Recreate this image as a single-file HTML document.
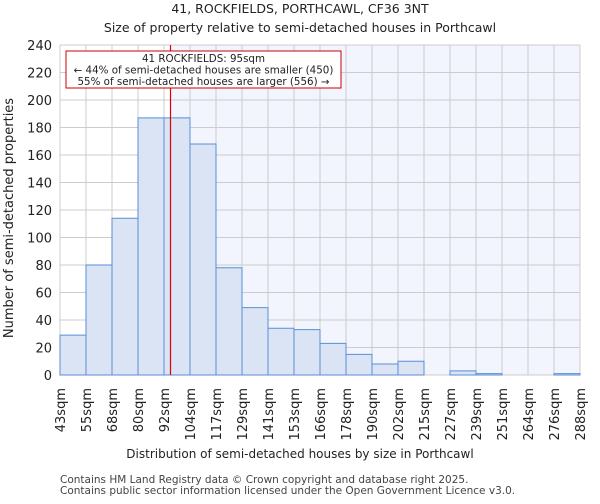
<!DOCTYPE html>
<html><head><meta charset="utf-8"><style>
body{margin:0;background:#fff;font-family:"DejaVu Sans","Liberation Sans",sans-serif;}
</style></head><body>
<svg width="600" height="500" xmlns="http://www.w3.org/2000/svg" font-family="DejaVu Sans, Liberation Sans, sans-serif">
<text x="300" y="13" text-anchor="middle" font-size="12.5" fill="#222">41, ROCKFIELDS, PORTHCAWL, CF36 3NT</text>
<text x="300" y="32" text-anchor="middle" font-size="12.5" fill="#222">Size of property relative to semi-detached houses in Porthcawl</text>
<g id="plot"></g>
<text x="300" y="458" text-anchor="middle" font-size="12" fill="#222">Distribution of semi-detached houses by size in Porthcawl</text>
<text transform="translate(13,218) rotate(-90)" text-anchor="middle" font-size="13" fill="#222">Number of semi-detached properties</text>
<text x="60" y="483" font-size="10.5" fill="#444">Contains HM Land Registry data © Crown copyright and database right 2025.</text>
<text x="60" y="494" font-size="10.5" fill="#444">Contains public sector information licensed under the Open Government Licence v3.0.</text>
</svg>
<script>
const categories=["43sqm","55sqm","68sqm","80sqm","92sqm","104sqm","117sqm","129sqm","141sqm","153sqm","166sqm","178sqm","190sqm","202sqm","215sqm","227sqm","239sqm","251sqm","264sqm","276sqm","288sqm"];
const binStarts=[43,55,68,80,92,104,117,129,141,153,166,178,190,202,215,227,239,251,264,276,288];
const counts=[29,80,114,187,187,168,78,49,34,33,23,15,8,10,0,3,1,0,0,1];
const yTicks=[0,20,40,60,80,100,120,140,160,180,200,220,240];
const markerValue=95;
const NS="http://www.w3.org/2000/svg";
const L=60,R=580,T=45,B=375,yMax=240;
const n=counts.length,bw=(R-L)/n;
const xs=i=>L+i*bw;
const ys=v=>B-v/yMax*(B-T);
function xv(v){let i=0;while(i<binStarts.length-2&&v>=binStarts[i+1])i++;return xs(i)+(v-binStarts[i])/(binStarts[i+1]-binStarts[i])*bw;}
const g=document.getElementById('plot');
function mk(t,a){const e=document.createElementNS(NS,t);for(const k in a)e.setAttribute(k,a[k]);g.appendChild(e);return e;}
const mx=xv(markerValue);
let e=mk('rect',{x:mx,y:T,width:R-mx,height:B-T,fill:'#f2f5fd'});


for(const t of yTicks){
 e=mk('line',{x1:L,x2:R,y1:ys(t),y2:ys(t),stroke:'#ccc','stroke-width':1});
 
 
 e=mk('text',{x:L-8,y:ys(t)+5,'text-anchor':'end','font-size':13,fill:'#222'});e.textContent=t;
 
 
}
for(let i=0;i<=n;i++){
 e=mk('line',{x1:xs(i),x2:xs(i),y1:T,y2:B,stroke:'#ccc','stroke-width':1});
 
 
}
counts.forEach((c,i)=>{
 e=mk('rect',{x:xs(i),y:ys(c),width:bw,height:B-ys(c),fill:'#dae4f4',stroke:'#5a8ed6','stroke-width':1});
 
 
});
categories.forEach((c,i)=>{
 const x=xs(i);
 e=mk('text',{transform:`translate(${x+5},388) rotate(-90)`,'text-anchor':'end','font-size':13,fill:'#222'});e.textContent=c;
 
 
});
e=mk('line',{x1:mx,x2:mx,y1:T,y2:B,stroke:'#d00','stroke-width':1.2});


e=mk('rect',{x:66,y:51,width:275,height:37,fill:'#fff',stroke:'#c00','stroke-width':1});


const lines=["41 ROCKFIELDS: 95sqm","← 44% of semi-detached houses are smaller (450)","55% of semi-detached houses are larger (556) →"];
lines.forEach((s,k)=>{
 e=mk('text',{x:203.5,y:62+k*11.5,'text-anchor':'middle','font-size':10.3,fill:'#222'});e.textContent=s;
 
 
});
</script>
</body></html>
